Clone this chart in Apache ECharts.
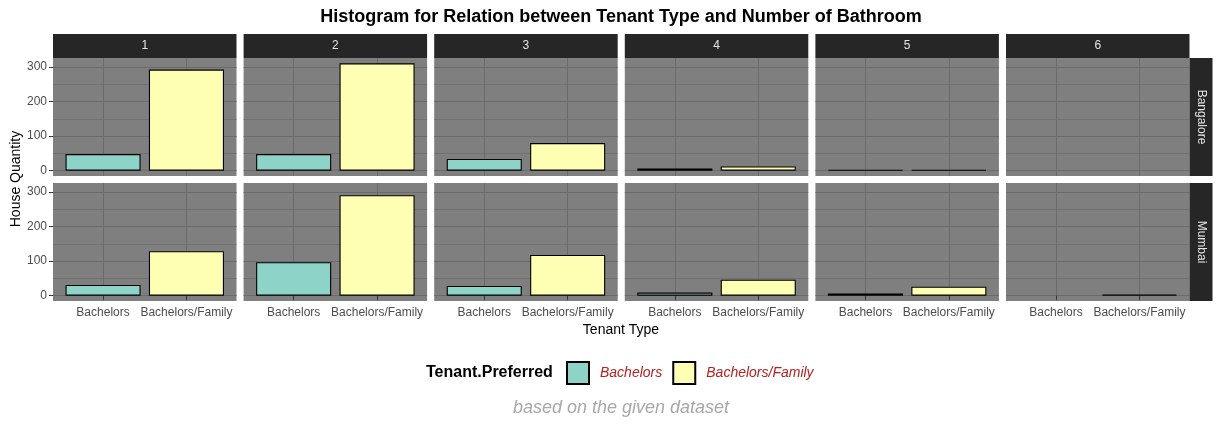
<!DOCTYPE html>
<html><head><meta charset="utf-8">
<script src="https://cdn.jsdelivr.net/npm/echarts@6/dist/echarts.min.js"></script>
<style>html,body{margin:0;padding:0;background:#fff}#c{width:1221px;height:425px}</style>
</head><body><div id="c"></div>
<script>
// ---- data ----
const bathrooms = ['1', '2', '3', '4', '5', '6'];
const cities = ['Bangalore', 'Mumbai'];
const tenantTypes = ['Bachelors', 'Bachelors/Family'];
const bangaloreBachelors = [48, 48, 34, 6, 2, null];
const bangaloreFamily = [293, 311, 80, 12, 2, null];
const mumbaiBachelors = [31, 97, 28, 9, 6, null];
const mumbaiFamily = [129, 291, 118, 46, 26, 3];
const yTicks = [0, 100, 200, 300];
const yMinorTicks = [50, 150, 250];
const xTicks = [1, 2];

// ---- layout / style ----
const FONT = '"Liberation Sans", Arial, sans-serif';
const L0 = 53, STEP = 190.6, PW = 183.5, TOPS = [58, 183], PH = 118;
const STRIP_TOP = 34, STRIP_H = 24, RSTRIP_W = 23;
const colors = ['#8DD3C7', '#FFFFB3'];
const values = {
  Bangalore: [bangaloreBachelors, bangaloreFamily],
  Mumbai: [mumbaiBachelors, mumbaiFamily]
};
const allVals = [].concat(bangaloreBachelors, bangaloreFamily, mumbaiBachelors, mumbaiFamily).filter(v => v != null);
const dataMax = Math.max.apply(null, allVals);
const yMin = -0.05 * dataMax, yMax = 1.05 * dataMax;

const chart = echarts.init(document.getElementById('c'), null, {renderer: 'canvas'});
const grid = [], xAxis = [], yAxis = [], series = [], graphic = [];

for (let r = 0; r < cities.length; r++) {
  for (let c = 0; c < bathrooms.length; c++) {
    const idx = r * bathrooms.length + c;
    grid.push({left: L0 + c * STEP, top: TOPS[r], width: PW, height: PH, show: true,
      backgroundColor: '#7F7F7F', borderWidth: 0});
    xAxis.push({gridIndex: idx, type: 'value', min: 0.4, max: 2.6,
      axisLine: {show: false},
      axisTick: {show: r === 1, customValues: xTicks, length: 4, lineStyle: {color: '#333333', width: 1}},
      axisLabel: {show: r === 1, customValues: xTicks, formatter: v => tenantTypes[Math.round(v) - 1],
        color: '#4D4D4D', fontSize: 12, fontFamily: FONT, margin: 6},
      splitLine: {show: true, lineStyle: {color: '#6B6B6B', width: 1}}});
    yAxis.push({gridIndex: idx, type: 'value', min: yMin, max: yMax,
      axisLine: {show: false},
      axisTick: {show: c === 0, customValues: yTicks, length: 4, lineStyle: {color: '#333333', width: 1}},
      axisLabel: {show: c === 0, customValues: yTicks, color: '#4D4D4D', fontSize: 12, fontFamily: FONT, margin: 6},
      splitLine: {show: true, lineStyle: {color: '#6B6B6B', width: 1}}});
    yAxis.push({gridIndex: idx, type: 'value', min: yMin, max: yMax,
      axisLine: {show: false},
      axisTick: {show: false, customValues: yMinorTicks},
      axisLabel: {show: false},
      splitLine: {show: true, lineStyle: {color: '#6B6B6B', width: 0.7}}});
    for (let k = 0; k < tenantTypes.length; k++) {
      const v = values[cities[r]][k][c];
      series.push({type: 'bar', name: tenantTypes[k], xAxisIndex: idx, yAxisIndex: 2 * idx,
        data: v == null ? [] : [[k + 1, v]],
        barWidth: PW * 0.9 / 2.2, barGap: '-100%', silent: true,
        itemStyle: {color: colors[k], borderColor: '#000', borderWidth: 1.1}});
    }
    // column strips
    if (r === 0) {
      graphic.push({type: 'rect', shape: {x: L0 + c * STEP, y: STRIP_TOP, width: PW, height: STRIP_H},
        style: {fill: '#262626'}, silent: true});
      graphic.push({type: 'text', x: L0 + c * STEP + PW / 2, y: STRIP_TOP + STRIP_H / 2, silent: true,
        style: {text: bathrooms[c], fill: '#E5E5E5', font: '12px ' + FONT, align: 'center', verticalAlign: 'middle'}});
    }
  }
  // row strips
  const sx = L0 + 5 * STEP + PW;
  graphic.push({type: 'rect', shape: {x: sx, y: TOPS[r], width: RSTRIP_W, height: PH},
    style: {fill: '#262626'}, silent: true});
  graphic.push({type: 'text', x: sx + RSTRIP_W / 2, y: TOPS[r] + PH / 2, rotation: -Math.PI / 2, silent: true,
    style: {text: cities[r], fill: '#E5E5E5', font: '12px ' + FONT, align: 'center', verticalAlign: 'middle'}});
}

// titles & labels
graphic.push({type: 'text', x: 621, y: 17, silent: true,
  style: {text: 'Histogram for Relation between Tenant Type and Number of Bathroom', fill: '#000',
    font: 'bold 18px ' + FONT, align: 'center', verticalAlign: 'middle'}});
graphic.push({type: 'text', x: 16, y: 179, rotation: Math.PI / 2, silent: true,
  style: {text: 'House Quantity', fill: '#000', font: '14px ' + FONT, align: 'center', verticalAlign: 'middle'}});
graphic.push({type: 'text', x: 621, y: 330, silent: true,
  style: {text: 'Tenant Type', fill: '#000', font: '14px ' + FONT, align: 'center', verticalAlign: 'middle'}});
graphic.push({type: 'text', x: 426, y: 373, silent: true,
  style: {text: 'Tenant.Preferred', fill: '#000', font: 'bold 16px ' + FONT, align: 'left', verticalAlign: 'middle'}});
graphic.push({type: 'text', x: 621, y: 408, silent: true,
  style: {text: 'based on the given dataset', fill: '#A8A8A8', font: 'italic 18px ' + FONT, align: 'center', verticalAlign: 'middle'}});

chart.setOption({
  animation: false,
  grid, xAxis, yAxis, series, graphic,
  legend: {data: tenantTypes, left: 566, top: 361, padding: 0, itemWidth: 22, itemHeight: 22, itemGap: 10,
    icon: 'rect', selectedMode: false,
    textStyle: {fontStyle: 'italic', color: '#B22222', fontSize: 14, fontFamily: FONT, padding: [0, 0, 0, 6]}}
});
</script>
</body></html>
